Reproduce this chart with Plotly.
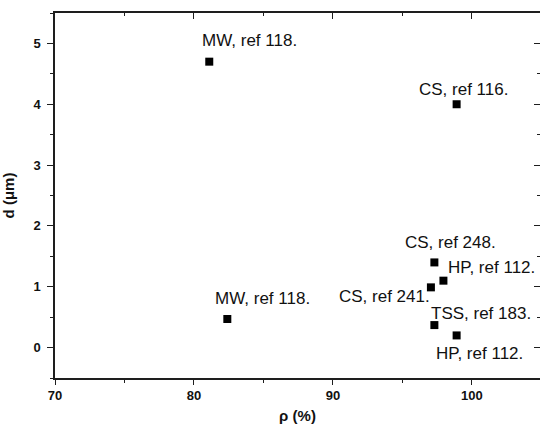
import plotly.graph_objects as go

# Data
labels = ["MW, ref 118.", "CS, ref 116.", "MW, ref 118.", "CS, ref 241.",
          "CS, ref 248.", "HP, ref 112.", "TSS, ref 183.", "HP, ref 112."]
rho = [81.1, 98.9, 82.4, 97.05, 97.3, 97.95, 97.3, 98.9]
d_um = [4.70, 4.00, 0.47, 0.99, 1.40, 1.10, 0.37, 0.20]

# label offsets (pixels) relative to marker: styling only
label_dx = [40, 7, 35, -46, 16, 48, 47, 23]
label_dy = [21, 15, 20, -9, 20, 13, 12, -18]

x_range = [70, 104.9]
y_range = [-0.5, 5.5]

AX = "#1e1e1e"
FONT = "Liberation Sans, Arial, sans-serif"

fig = go.Figure()
fig.add_trace(go.Scatter(
    x=rho, y=d_um, mode="markers",
    marker=dict(symbol="square", size=8, color="black", line=dict(width=0)),
    showlegend=False, hoverinfo="skip"))
# invisible trace to activate the mirrored top/right axes
fig.add_trace(go.Scatter(x=[rho[0]], y=[d_um[0]], xaxis="x2", yaxis="y2",
                         mode="markers", marker=dict(opacity=0), showlegend=False,
                         hoverinfo="skip"))

for lab, x, y, dx, dy in zip(labels, rho, d_um, label_dx, label_dy):
    fig.add_annotation(x=x, y=y, xref="x", yref="y", text=lab, showarrow=False,
                       xanchor="center", yanchor="middle", xshift=dx, yshift=dy,
                       font=dict(family=FONT, size=17, color="#111"))

common_tick = dict(family=FONT, size=13, color="#111", weight="bold")

fig.update_layout(
    width=540, height=425,
    margin=dict(l=55, r=0, t=13, b=47, pad=0),
    paper_bgcolor="white", plot_bgcolor="white",
    font=dict(family=FONT, color="#111"),
    xaxis=dict(range=x_range, dtick=10, tick0=70, showgrid=False, zeroline=False,
               automargin=False,
               showline=True, linecolor=AX, linewidth=1.5,
               ticks="outside", ticklen=5, tickwidth=1.3, tickcolor=AX,
               minor=dict(dtick=5, tick0=70, ticks="outside", ticklen=3, tickwidth=1.3, tickcolor=AX),
               tickfont=common_tick,
               title=dict(text="<b>ρ (%)</b>", font=dict(family=FONT, size=15, color="#111"),
                          standoff=8)),
    yaxis=dict(range=y_range, dtick=1, tick0=0, showgrid=False, zeroline=False,
               automargin=False,
               showline=True, linecolor=AX, linewidth=1.5,
               ticks="outside", ticklen=6, tickwidth=1.3, tickcolor=AX,
               ticklabelstandoff=4,
               minor=dict(dtick=0.5, tick0=0, ticks="outside", ticklen=3, tickwidth=1.3, tickcolor=AX),
               tickfont=common_tick,
               title=dict(text="<b>d (μm)</b>", font=dict(family=FONT, size=15, color="#111"),
                          standoff=15)),
    xaxis2=dict(range=x_range, overlaying="x", side="top", dtick=10, tick0=70,
                automargin=False,
                showgrid=False, zeroline=False, showline=True, linecolor=AX, linewidth=1.5,
                ticks="inside", ticklen=6, tickwidth=1.3, tickcolor=AX, showticklabels=False,
                minor=dict(dtick=5, tick0=70, ticks="inside", ticklen=3, tickwidth=1.3, tickcolor=AX)),
    yaxis2=dict(range=y_range, overlaying="y", side="right", dtick=1, tick0=0,
                automargin=False,
                showgrid=False, zeroline=False, showline=False,
                ticks="inside", ticklen=6, tickwidth=1.3, tickcolor=AX, showticklabels=False,
                minor=dict(dtick=0.5, tick0=0, ticks="inside", ticklen=3, tickwidth=1.3, tickcolor=AX)),
)

fig.write_html("out.html", config={"displayModeBar": False},
               post_script="document.body.style.margin='0';document.body.style.overflow='hidden';")
